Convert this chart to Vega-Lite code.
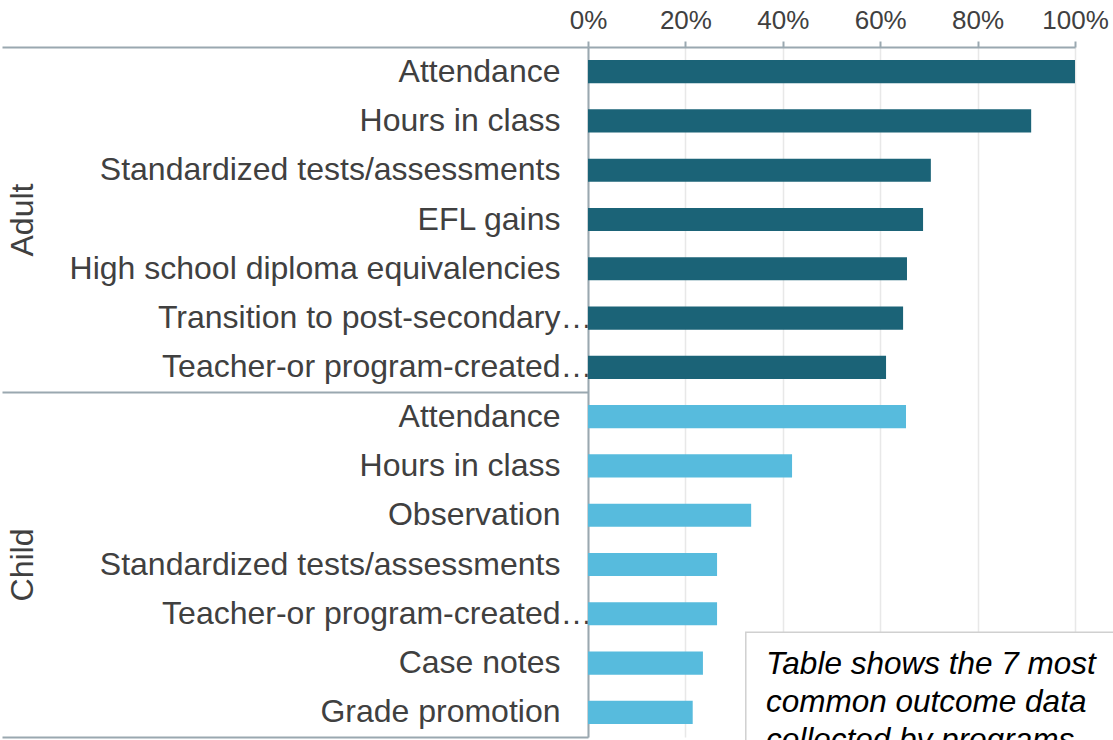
{
  "$schema": "https://vega.github.io/schema/vega-lite/v6.json",
  "autosize": {"type": "none"},
  "width": 487,
  "height": 690,
  "padding": {"left": 588, "top": 47, "right": 38, "bottom": 3},
  "background": "white",
  "config": {"view": {"stroke": null}, "font": "Liberation Sans"},
  "datasets": {
    "bars": [
      {"group": "Adult", "key": "01|Attendance", "value": 1.0},
      {"group": "Adult", "key": "02|Hours in class", "value": 0.91},
      {"group": "Adult", "key": "03|Standardized tests/assessments", "value": 0.704},
      {"group": "Adult", "key": "04|EFL gains", "value": 0.688},
      {"group": "Adult", "key": "05|High school diploma equivalencies", "value": 0.655},
      {"group": "Adult", "key": "06|Transition to post-secondary…", "value": 0.647},
      {"group": "Adult", "key": "07|Teacher-or program-created…", "value": 0.612},
      {"group": "Child", "key": "08|Attendance", "value": 0.653},
      {"group": "Child", "key": "09|Hours in class", "value": 0.419},
      {"group": "Child", "key": "10|Observation", "value": 0.335},
      {"group": "Child", "key": "11|Standardized tests/assessments", "value": 0.265},
      {"group": "Child", "key": "12|Teacher-or program-created…", "value": 0.265},
      {"group": "Child", "key": "13|Case notes", "value": 0.236},
      {"group": "Child", "key": "14|Grade promotion", "value": 0.215}
    ],
    "note": [
      {"boxTop": "12|Teacher-or program-created…", "boxBottom": "14|Grade promotion", "textRow": "13|Case notes", "x0": 0.324, "x1": 1.2, "tx": 0.3655,
       "lines": ["Table shows the 7 most", "common outcome data", "collected by programs"]}
    ]
  },
  "layer": [
    {
      "layer": [
        {
          "data": {"name": "bars"},
          "mark": {"type": "bar"},
          "encoding": {
            "y": {
              "field": "key", "type": "nominal", "sort": "ascending",
              "scale": {"paddingInner": 0.53, "paddingOuter": 0.265},
              "axis": {
                "title": null, "domain": false, "ticks": false, "grid": false,
                "labelFontSize": 32, "labelColor": "#404040",
                "labelPadding": {"condition": {"test": "indexof(datum.value, '…') >= 0", "value": -4}, "value": 28},
                "labelLimit": 700, "labelExpr": "split(datum.label, '|')[1]"
              }
            },
            "x": {
              "field": "value", "type": "quantitative",
              "scale": {"domain": [0, 1]},
              "axis": {
                "orient": "top", "title": null, "values": [0, 0.2, 0.4, 0.6, 0.8, 1],
                "format": ".0%", "labelFlush": false,
                "labelFontSize": 26, "labelColor": "#404040", "labelPadding": 8,
                "domainColor": "#9aa8b0", "domainWidth": 2,
                "tickColor": "#9aa8b0", "tickWidth": 2, "tickSize": 6,
                "grid": true, "gridColor": "#e8e8e8", "gridWidth": 1.5
              }
            },
            "color": {
              "field": "group", "type": "nominal",
              "scale": {"domain": ["Adult", "Child"], "range": ["#1b6377", "#57bbdd"]},
              "legend": null
            }
          }
        },
        {
          "data": {"name": "note"},
          "mark": {"type": "rect", "fill": "white", "stroke": "#d0d0d0", "strokeWidth": 1.5, "clip": false},
          "encoding": {
            "x": {"field": "x0", "type": "quantitative"},
            "x2": {"field": "x1"},
            "y": {"field": "boxTop", "type": "nominal", "sort": "ascending", "bandPosition": 1.3},
            "y2": {"field": "boxBottom", "bandPosition": 3}
          }
        },
        {
          "data": {"name": "note"},
          "mark": {"type": "text", "align": "left", "baseline": "alphabetic", "dy": 11, "fontSize": 31.5, "fontStyle": "italic", "color": "#000000", "lineHeight": 38, "clip": false},
          "encoding": {
            "x": {"field": "tx", "type": "quantitative"},
            "y": {"field": "textRow", "type": "nominal", "sort": "ascending"},
            "text": {"field": "lines"}
          }
        }
      ]
    },
    {
      "data": {"name": "bars"},
      "mark": {"type": "point", "opacity": 0},
      "encoding": {
        "y": {
          "field": "group", "type": "nominal",
          "scale": {"type": "band", "paddingInner": 0, "paddingOuter": 0},
          "axis": {
            "orient": "left", "title": null, "grid": false,
            "domain": true, "domainColor": "#9aa8b0", "domainWidth": 2,
            "ticks": true, "tickBand": "extent", "tickSize": 586, "tickColor": "#9aa8b0", "tickWidth": 2,
            "labelAngle": -90, "labelAlign": "center", "labelBaseline": "middle",
            "labelPadding": -20, "labelFontSize": 32, "labelColor": "#404040"
          }
        }
      }
    }
  ],
  "resolve": {"scale": {"y": "independent"}, "axis": {"y": "independent"}}
}
